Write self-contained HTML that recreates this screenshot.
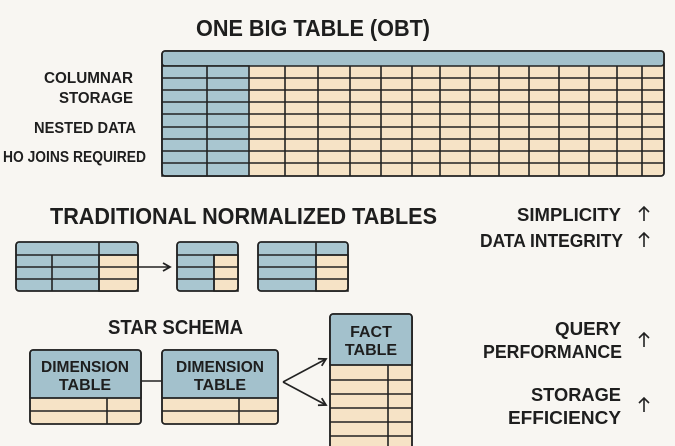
<!DOCTYPE html>
<html><head><meta charset="utf-8"><style>
html,body{margin:0;padding:0;background:#f8f6f2;}
svg{display:block;}
text{font-family:"Liberation Sans",sans-serif;font-weight:bold;fill:#1e1e1e;}
</style></head><body>
<svg width="675" height="446" viewBox="0 0 675 446" xmlns="http://www.w3.org/2000/svg">
<rect width="675" height="446" fill="#f8f6f2"/>
<defs>
<marker id="ah" markerWidth="10" markerHeight="10" refX="8" refY="5" orient="auto" markerUnits="userSpaceOnUse">
<path d="M1,1 L8,5 L1,9" fill="none" stroke="#222" stroke-width="1.8"/></marker>
</defs>

<text x="196" y="36" font-size="23" textLength="234" lengthAdjust="spacingAndGlyphs">ONE BIG TABLE (OBT)</text>

<g stroke="#222" stroke-width="1.6">
<rect x="162" y="51" width="502" height="125" rx="3" fill="#f6e3c6"/>
<rect x="162" y="51" width="502" height="15" rx="3" fill="#a3c1cc"/>
<rect x="162" y="66" width="87" height="110" fill="#a9c6d0"/>
<line x1="207" y1="66" x2="207" y2="176"/>
<line x1="285" y1="66" x2="285" y2="176"/><line x1="318" y1="66" x2="318" y2="176"/>
<line x1="350" y1="66" x2="350" y2="176"/><line x1="381" y1="66" x2="381" y2="176"/>
<line x1="412" y1="66" x2="412" y2="176"/><line x1="440" y1="66" x2="440" y2="176"/>
<line x1="470" y1="66" x2="470" y2="176"/><line x1="499" y1="66" x2="499" y2="176"/>
<line x1="529" y1="66" x2="529" y2="176"/><line x1="559" y1="66" x2="559" y2="176"/>
<line x1="589" y1="66" x2="589" y2="176"/><line x1="617" y1="66" x2="617" y2="176"/>
<line x1="642" y1="66" x2="642" y2="176"/>
<line x1="162" y1="78" x2="664" y2="78"/><line x1="162" y1="90" x2="664" y2="90"/>
<line x1="162" y1="102" x2="664" y2="102"/><line x1="162" y1="114" x2="664" y2="114"/>
<line x1="162" y1="127" x2="664" y2="127"/><line x1="162" y1="139" x2="664" y2="139"/>
<line x1="162" y1="151" x2="664" y2="151"/><line x1="162" y1="163" x2="664" y2="163"/>
<rect x="162" y="51" width="502" height="125" rx="3" fill="none"/>
</g>

<text x="44" y="83" font-size="16" textLength="89" lengthAdjust="spacingAndGlyphs">COLUMNAR</text>
<text x="59" y="103" font-size="16" textLength="74" lengthAdjust="spacingAndGlyphs">STORAGE</text>
<text x="34" y="133" font-size="16" textLength="102" lengthAdjust="spacingAndGlyphs">NESTED DATA</text>
<text x="3" y="162" font-size="16" textLength="143" lengthAdjust="spacingAndGlyphs">HO JOINS REQUIRED</text>

<text x="50" y="224" font-size="23" textLength="387" lengthAdjust="spacingAndGlyphs">TRADITIONAL NORMALIZED TABLES</text>

<g stroke="#222" stroke-width="1.6">
<rect x="16" y="242" width="122" height="49" rx="3" fill="#a9c6d0"/>
<rect x="99" y="255" width="39" height="36" fill="#f6e3c6"/>
<line x1="99" y1="242" x2="99" y2="291"/><line x1="52" y1="255" x2="52" y2="291"/>
<line x1="16" y1="255" x2="138" y2="255"/><line x1="16" y1="267" x2="138" y2="267"/><line x1="16" y1="279" x2="138" y2="279"/>
<rect x="16" y="242" width="122" height="49" rx="3" fill="none"/>
<rect x="177" y="242" width="61" height="49" rx="3" fill="#a9c6d0"/>
<rect x="214" y="255" width="24" height="36" fill="#f6e3c6"/>
<line x1="214" y1="255" x2="214" y2="291"/>
<line x1="177" y1="255" x2="238" y2="255"/><line x1="177" y1="267" x2="238" y2="267"/><line x1="177" y1="279" x2="238" y2="279"/>
<rect x="177" y="242" width="61" height="49" rx="3" fill="none"/>
<rect x="258" y="242" width="90" height="49" rx="3" fill="#a9c6d0"/>
<rect x="316" y="255" width="32" height="36" fill="#f6e3c6"/>
<line x1="316" y1="242" x2="316" y2="291"/>
<line x1="258" y1="255" x2="348" y2="255"/><line x1="258" y1="267" x2="348" y2="267"/><line x1="258" y1="279" x2="348" y2="279"/>
<rect x="258" y="242" width="90" height="49" rx="3" fill="none"/>
<line x1="138" y1="267" x2="170" y2="267" marker-end="url(#ah)"/>
</g>

<text x="108" y="334" font-size="20" textLength="135" lengthAdjust="spacingAndGlyphs">STAR SCHEMA</text>
<g stroke="#222" stroke-width="1.6">
<rect x="30" y="350" width="111" height="74" rx="3" fill="#f6e3c6"/>
<path d="M30,398 V353 a3,3 0 0 1 3,-3 H138 a3,3 0 0 1 3,3 V398 Z" fill="#a3c1cc"/>
<line x1="30" y1="398" x2="141" y2="398"/><line x1="30" y1="411" x2="141" y2="411"/>
<line x1="107" y1="398" x2="107" y2="424"/>
<rect x="30" y="350" width="111" height="74" rx="3" fill="none"/>

<rect x="162" y="350" width="116" height="74" rx="3" fill="#f6e3c6"/>
<path d="M162,398 V353 a3,3 0 0 1 3,-3 H275 a3,3 0 0 1 3,3 V398 Z" fill="#a3c1cc"/>
<line x1="162" y1="398" x2="278" y2="398"/><line x1="162" y1="411" x2="278" y2="411"/>
<line x1="239" y1="398" x2="239" y2="424"/>
<rect x="162" y="350" width="116" height="74" rx="3" fill="none"/>

<line x1="141" y1="381" x2="162" y2="381"/>

<rect x="330" y="314" width="82" height="140" rx="3" fill="#f6e3c6"/>
<path d="M330,365 V317 a3,3 0 0 1 3,-3 H409 a3,3 0 0 1 3,3 V365 Z" fill="#a3c1cc"/>
<line x1="330" y1="365" x2="412" y2="365"/><line x1="330" y1="380" x2="412" y2="380"/>
<line x1="330" y1="394" x2="412" y2="394"/><line x1="330" y1="408" x2="412" y2="408"/>
<line x1="330" y1="422" x2="412" y2="422"/><line x1="330" y1="436" x2="412" y2="436"/>
<line x1="388" y1="365" x2="388" y2="446"/>
<rect x="330" y="314" width="82" height="140" rx="3" fill="none"/>

<line x1="283" y1="382" x2="326" y2="359" marker-end="url(#ah)"/>
<line x1="283" y1="382" x2="326" y2="405" marker-end="url(#ah)"/>
</g>
<text x="85" y="372" font-size="16" text-anchor="middle" textLength="88" lengthAdjust="spacingAndGlyphs">DIMENSION</text>
<text x="85" y="390" font-size="16" text-anchor="middle">TABLE</text>
<text x="220" y="372" font-size="16" text-anchor="middle" textLength="88" lengthAdjust="spacingAndGlyphs">DIMENSION</text>
<text x="220" y="390" font-size="16" text-anchor="middle">TABLE</text>
<text x="371" y="337" font-size="16" text-anchor="middle">FACT</text>
<text x="371" y="355" font-size="16" text-anchor="middle">TABLE</text>

<g font-size="18">
<text x="517" y="221" textLength="104" lengthAdjust="spacingAndGlyphs">SIMPLICITY</text>
<text x="480" y="247" textLength="143" lengthAdjust="spacingAndGlyphs">DATA INTEGRITY</text>
<text x="555" y="335" textLength="66" lengthAdjust="spacingAndGlyphs">QUERY</text>
<text x="483" y="358" textLength="139" lengthAdjust="spacingAndGlyphs">PERFORMANCE</text>
<text x="531" y="401" textLength="90" lengthAdjust="spacingAndGlyphs">STORAGE</text>
<text x="508" y="424" textLength="113" lengthAdjust="spacingAndGlyphs">EFFICIENCY</text>
</g>
<g stroke="#222" stroke-width="1.6" fill="none">
<path d="M644,221 V207 M639,212 L644,207 L649,212"/>
<path d="M644,247 V233 M639,238 L644,233 L649,238"/>
<path d="M644,347 V333 M639,338 L644,333 L649,338"/>
<path d="M644,412 V398 M639,403 L644,398 L649,403"/>
</g>
</svg>
</body></html>
